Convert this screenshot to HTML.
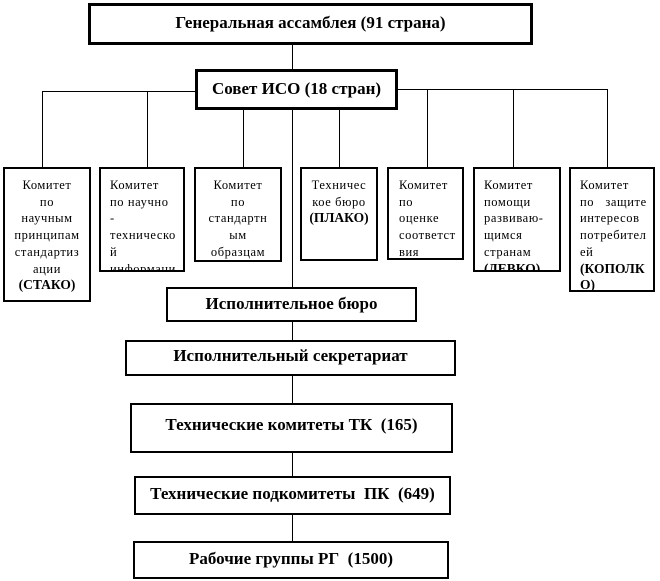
<!DOCTYPE html>
<html><head><meta charset="utf-8"><style>
body{margin:0;width:660px;height:581px;background:#fff;position:relative;overflow:hidden;font-family:"Liberation Serif","Noto Serif CJK SC",serif;color:#000}
.b{position:absolute;box-sizing:border-box;border:2px solid #000;background:#fff}
.t{border-width:3px}
.l{position:absolute;background:#000}
.big{font-weight:bold;font-size:17px;text-align:center}
.s{font-size:12.5px;line-height:16.7px;padding-top:8px;overflow:hidden;letter-spacing:0.6px}
.s b{font-size:13.5px;letter-spacing:0}
</style></head><body>
<div class="l" style="left:292px;top:45px;width:1px;height:25px"></div>
<div class="l" style="left:42px;top:91px;width:153px;height:1px"></div>
<div class="l" style="left:397px;top:89px;width:211px;height:1px"></div>
<div class="l" style="left:42px;top:91px;width:1px;height:76px"></div>
<div class="l" style="left:147px;top:91px;width:1px;height:76px"></div>
<div class="l" style="left:243px;top:109px;width:1px;height:58px"></div>
<div class="l" style="left:292px;top:109px;width:1px;height:178px"></div>
<div class="l" style="left:339px;top:109px;width:1px;height:58px"></div>
<div class="l" style="left:427px;top:89px;width:1px;height:78px"></div>
<div class="l" style="left:513px;top:89px;width:1px;height:78px"></div>
<div class="l" style="left:607px;top:89px;width:1px;height:78px"></div>
<div class="l" style="left:292px;top:322px;width:1px;height:18px"></div>
<div class="l" style="left:292px;top:376px;width:1px;height:27px"></div>
<div class="l" style="left:292px;top:453px;width:1px;height:23px"></div>
<div class="l" style="left:292px;top:515px;width:1px;height:26px"></div>

<div class="b t big" style="left:88px;top:3px;width:445px;height:42px;line-height:34px">Генеральная ассамблея (91 страна)</div>
<div class="b t big" style="left:195px;top:69px;width:203px;height:41px;line-height:34px">Совет ИСО (18 стран)</div>

<div class="b s" style="left:3px;top:167px;width:88px;height:135px;text-align:center">Комитет<br>по<br>научным<br>принципам<br>стандартиз<br>ации<br><b>(СТАКО)</b></div>
<div class="b s" style="left:99px;top:167px;width:86px;height:105px;padding-left:9px">Комитет<br>по научно<br>-<br>техническо<br>й<br>информаци</div>
<div class="b s" style="left:194px;top:167px;width:88px;height:95px;text-align:center">Комитет<br>по<br>стандартн<br>ым<br>образцам<br><b>(РЕМКО)</b></div>
<div class="b s" style="left:300px;top:167px;width:78px;height:94px;text-align:center">Техничес<br>кое бюро<br><b>(ПЛАКО)</b></div>
<div class="b s" style="left:387px;top:167px;width:77px;height:93px;padding-left:10px">Комитет<br>по<br>оценке<br>соответст<br>вия<br><b>(КАСКО)</b></div>
<div class="b s" style="left:473px;top:167px;width:88px;height:105px;padding-left:9px">Комитет<br>помощи<br>развиваю-<br>щимся<br>странам<br><b>(ДЕВКО)</b></div>
<div class="b s" style="left:569px;top:167px;width:86px;height:125px;padding-left:9px">Комитет<br>по&nbsp;&nbsp; защите<br>интересов<br>потребител<br>ей<br><b>(КОПОЛК<br>О)</b></div>

<div class="b big" style="left:166px;top:287px;width:251px;height:35px;line-height:30px">Исполнительное бюро</div>
<div class="b big" style="left:125px;top:340px;width:331px;height:36px;line-height:28px">Исполнительный секретариат</div>
<div class="b big" style="left:130px;top:403px;width:323px;height:50px;line-height:40px">Технические комитеты ТК&nbsp; (165)</div>
<div class="b big" style="left:134px;top:476px;width:317px;height:39px;line-height:32px">Технические подкомитеты&nbsp; ПК&nbsp; (649)</div>
<div class="b big" style="left:133px;top:541px;width:316px;height:38px;line-height:32px">Рабочие группы РГ&nbsp; (1500)</div>
</body></html>
